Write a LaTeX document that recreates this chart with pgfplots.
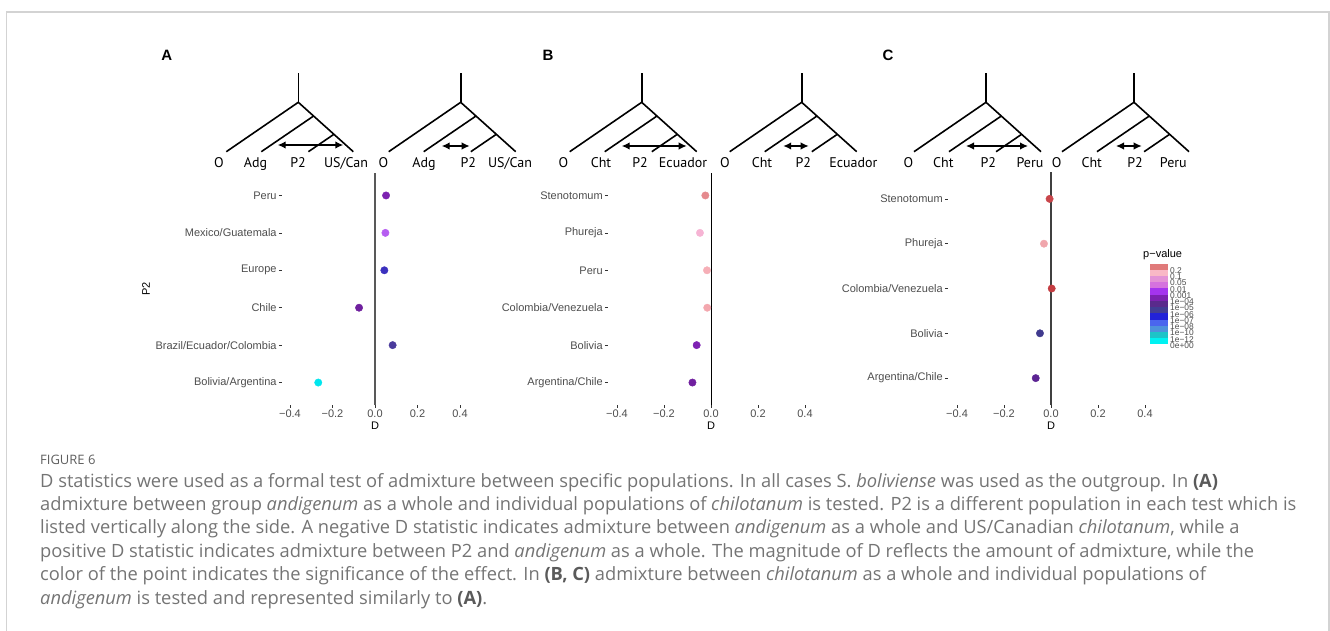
\documentclass[border=0pt]{standalone}
\usepackage{fontspec}
\setmainfont{Liberation Sans}
\newfontfamily\axfont{Liberation Sans}
\newfontfamily\treefont{PT Sans}
\newfontfamily\capfont{Open Sans}
\usepackage{pgfplots}
\pgfplotsset{compat=1.18}
\usetikzlibrary{arrows.meta}

\definecolor{lab}{HTML}{4D4D4D}
\definecolor{capgrey}{HTML}{747474}
\definecolor{capbold}{HTML}{5A5A5A}
\definecolor{figgrey}{HTML}{5E5E5E}
\definecolor{bordergrey}{HTML}{D3D3D3}
% legend colours
\definecolor{lg1}{HTML}{E07A7A}
\definecolor{lg2}{HTML}{F9B8C6}
\definecolor{lg3}{HTML}{E393D6}
\definecolor{lg4}{HTML}{D572DE}
\definecolor{lg5}{HTML}{A434EE}
\definecolor{lg6}{HTML}{7C22B0}
\definecolor{lg7}{HTML}{5A2A8C}
\definecolor{lg8}{HTML}{423D94}
\definecolor{lg9}{HTML}{2222D8}
\definecolor{lg10}{HTML}{4A66EE}
\definecolor{lg11}{HTML}{4E92DC}
\definecolor{lg12}{HTML}{1EC4C8}
\definecolor{lg13}{HTML}{00F2F2}

\pgfplotsset{dpanel/.style={
  scale only axis, height=232pt,
  xmin=-0.44, xmax=0.44, ymin=0.4, ymax=6.6,
  axis line style={draw=none},
  xtick={-0.4,-0.2,0,0.2,0.4},
  xticklabels={−0.4,−0.2,0.0,0.2,0.4},
  ytick={1,2,3,4,5,6},
  xtick pos=left, ytick pos=left,
  tick align=outside,
  major tick length=2.7pt,
  tick style={black!80, line width=0.6pt},
  ticklabel style={font=\axfont\fontsize{11}{13}\selectfont, text=lab},
  yticklabel style={inner sep=2pt},
  xticklabel style={inner sep=1.5pt},
  /pgf/number format/assume math mode=true,
  xlabel={D},
  every axis x label/.style={at={(axis description cs:0.5,0)}, anchor=north, yshift=-13.5pt, font=\axfont\fontsize{11}{13}\selectfont},
  clip=false,
}}
\newcommand{\dpt}[3]{\addplot[only marks, mark=*, mark size=3.7pt, color=#1, mark options={draw=none, fill=#1}] coordinates {(#2,#3)};}

% tree: #1 root x, #2 arrow left offset, #3 arrow right offset, #4 arrow y
\newcommand{\tree}[4]{%
  \draw[line width=1.6pt] (#1,73.3) -- (#1,102.3);
  \draw[line width=1.6pt, line join=miter] ({#1-72},151.7) -- (#1,102.3) -- ({#1+55},151.7);
  \draw[line width=1.6pt] ({#1+15.3},116) -- ({#1+15.3-52.3},151.7);
  \draw[line width=1.6pt] ({#1+35.6},134.3) -- ({#1+35.6-25.5},151.7);
  \draw[line width=1.4pt, {Latex[length=8pt,width=7.5pt]}-{Latex[length=8pt,width=7.5pt]}] ({#1+#2},#4) -- ({#1+#3},#4);
}
\newcommand{\tlab}[2]{\node[anchor=base, inner sep=0, font=\treefont\fontsize{14}{16}\selectfont] at (#1,168) {#2};}
\tikzset{capline/.style={anchor=base west, inner sep=0, text=capgrey, font=\capfont\fontsize{18.3}{22}\selectfont}}

\begin{document}
\begin{tikzpicture}
\begin{scope}[x=1pt, y=-1pt]
  \path[use as bounding box] (0,0) rectangle (1330,631);
  \draw[bordergrey, line width=1.4pt] (6.5,632) -- (6.5,12) -- (1329,12) -- (1329,632);

  % panel letters
  \node[font=\axfont\bfseries\fontsize{15}{17}\selectfont] at (166.7,55.5) {A};
  \node[font=\axfont\bfseries\fontsize{15}{17}\selectfont] at (548,55.5) {B};
  \node[font=\axfont\bfseries\fontsize{15}{17}\selectfont] at (888,55.5) {C};

  % trees
  \tree{298.3}{-20.6}{45}{145}
  \tree{460.7}{-19}{9}{146}
  \tree{641.7}{-20}{45}{146}
  \tree{801.7}{-18.5}{7}{146}
  \tree{986}{-20}{42}{146}
  \tree{1134}{-18}{7.7}{146}

  \tlab{219}{O}\tlab{255.5}{Adg}\tlab{298}{P2}\tlab{346}{US/Can}
  \tlab{383.5}{O}\tlab{424}{Adg}\tlab{468.3}{P2}\tlab{510}{US/Can}
  \tlab{563.3}{O}\tlab{601}{Cht}\tlab{640}{P2}\tlab{683}{Ecuador}
  \tlab{725}{O}\tlab{762}{Cht}\tlab{803.3}{P2}\tlab{853.3}{Ecuador}
  \tlab{908.3}{O}\tlab{943.3}{Cht}\tlab{988.3}{P2}\tlab{1030}{Peru}
  \tlab{1056.7}{O}\tlab{1091.7}{Cht}\tlab{1135}{P2}\tlab{1173.3}{Peru}

  % legend
  \node[anchor=west, inner sep=0, font=\axfont\fontsize{11}{12}\selectfont] at (1143,255) {p−value};
  \foreach \c [count=\i from 0] in {lg1,lg2,lg3,lg4,lg5,lg6,lg7,lg8,lg9,lg10,lg11,lg12,lg13}{
    \fill[\c] (1150,{263.5+6.23*\i}) rectangle (1167.5,{263.5+6.23*(\i+1)});
  }
  \foreach \l [count=\i from 0] in {0.2,0.1,0.05,0.01,0.001,1e−04,1e−05,1e−06,1e−07,1e−08,1e−10,1e−12,0e+00}{
    \node[anchor=west, inner sep=0, text=lab, font=\axfont\fontsize{8.4}{9}\selectfont] at (1170,{270.5+6.25*\i}) {\l};
  }

  % caption
  \node[anchor=base west, inner sep=0, text=figgrey, font=\capfont\fontsize{13}{15}\selectfont] at (40,464) {FIGURE 6};
  \node[capline] at (40,487) {D statistics were used as a formal test of admixture between specific populations. In all cases S. \textit{boliviense} was used as the outgroup. In \textcolor{capbold}{\textbf{(A)}}};
  \node[capline] at (40,510.4) {admixture between group \textit{andigenum} as a whole and individual populations of \textit{chilotanum} is tested. P2 is a different population in each test which is};
  \node[capline] at (40,533.8) {listed vertically along the side. A negative D statistic indicates admixture between \textit{andigenum} as a whole and US/Canadian \textit{chilotanum}, while a};
  \node[capline] at (40,557.2) {positive D statistic indicates admixture between P2 and \textit{andigenum} as a whole. The magnitude of D reflects the amount of admixture, while the};
  \node[capline] at (40,580.6) {color of the point indicates the significance of the effect. In \textcolor{capbold}{\textbf{(B, C)}} admixture between \textit{chilotanum} as a whole and individual populations of};
  \node[capline] at (40,604) {\textit{andigenum} is tested and represented similarly to \textcolor{capbold}{\textbf{(A)}}.};
\end{scope}

% Panel A
\begin{axis}[dpanel, at={(281.5pt,-405pt)}, anchor=south west, width=187pt,
  yticklabels={Bolivia/Argentina,Brazil/Ecuador/Colombia,Chile,Europe,Mexico/Guatemala,Peru},
  ylabel={P2},
  every axis y label/.style={at={(axis description cs:-0.7246,0.5)}, rotate=90, anchor=center, font=\axfont\fontsize{11}{13}\selectfont}]
  \addplot[no marks, color=black!65, line width=1.1pt] coordinates {(0,0.4) (0,6.6)};
  \dpt{lg6}{0.052}{6}
  \dpt{lg5!80!white}{0.049}{5}
  \definecolor{cEu}{HTML}{3B30BE}\dpt{cEu}{0.044}{4}
  \definecolor{cCh}{HTML}{6F209E}\dpt{cCh}{-0.075}{3}
  \definecolor{cBr}{HTML}{4A3B9C}\dpt{cBr}{0.083}{2}
  \definecolor{cBo}{HTML}{00E6EE}\dpt{cBo}{-0.267}{1}
\end{axis}

% Panel B
\begin{axis}[dpanel, at={(607.6pt,-405pt)}, anchor=south west, width=206.8pt,
  yticklabels={Argentina/Chile,Bolivia,Colombia/Venezuela,Peru,Phureja,Stenotomum}]
  \addplot[no marks, color=black, line width=0.9pt] coordinates {(0,0.4) (0,6.6)};
  \definecolor{bSt}{HTML}{E58A8E}\dpt{bSt}{-0.024}{6}
  \definecolor{bPh}{HTML}{F6B4D4}\dpt{bPh}{-0.047}{5}
  \definecolor{bPe}{HTML}{F6AFB7}\dpt{bPe}{-0.017}{4}
  \definecolor{bCo}{HTML}{F3A7AE}\dpt{bCo}{-0.016}{3}
  \definecolor{bBo}{HTML}{7E22B3}\dpt{bBo}{-0.061}{2}
  \definecolor{bAr}{HTML}{701F9F}\dpt{bAr}{-0.079}{1}
\end{axis}

% Panel C
\begin{axis}[dpanel, at={(947.6pt,-405pt)}, anchor=south west, width=206.8pt, height=233pt,
  ymax=5.6, ytick={1,2,3,4,5},
  yticklabels={Argentina/Chile,Bolivia,Colombia/Venezuela,Phureja,Stenotomum}]
  \addplot[no marks, color=black!75, line width=1.1pt] coordinates {(0,0.4) (0,5.6)};
  \definecolor{cSt}{HTML}{C9464B}\dpt{cSt}{-0.006}{5}
  \definecolor{cPh}{HTML}{F0A6AC}\dpt{cPh}{-0.030}{4}
  \definecolor{cCo}{HTML}{C43C41}\dpt{cCo}{0.003}{3}
  \definecolor{cBv}{HTML}{403A8E}\dpt{cBv}{-0.047}{2}
  \definecolor{cAr}{HTML}{5C2493}\dpt{cAr}{-0.065}{1}
\end{axis}
\end{tikzpicture}
\end{document}
